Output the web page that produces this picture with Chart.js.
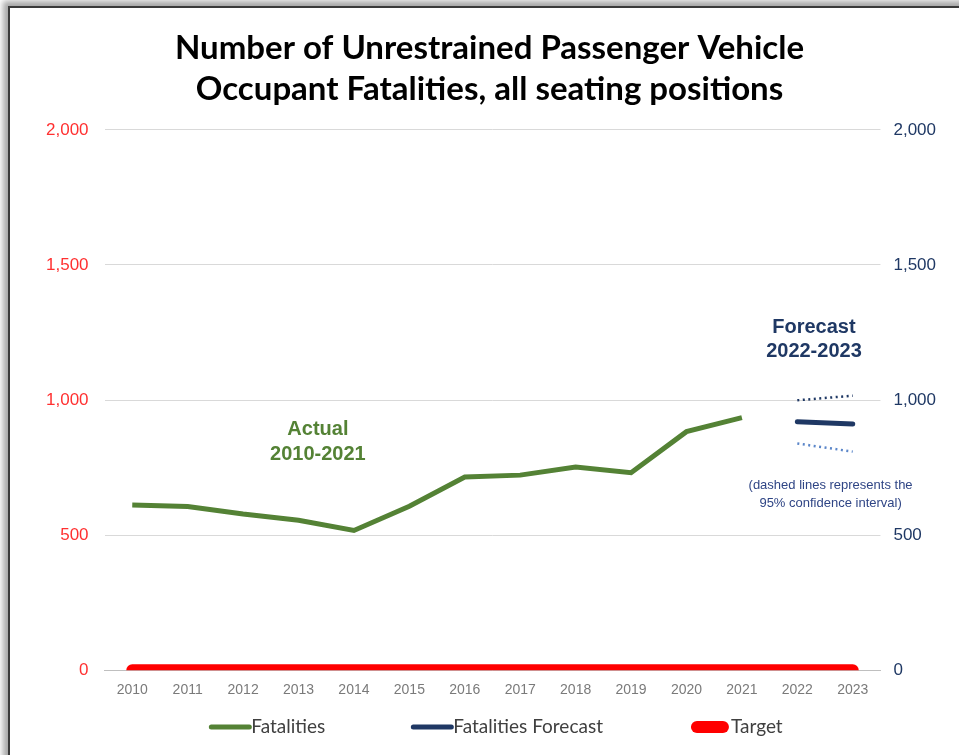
<!DOCTYPE html>
<html>
<head>
<meta charset="utf-8">
<script src="https://cdn.jsdelivr.net/npm/chart.js@4.4.1/dist/chart.umd.min.js"></script>
<style>
  html, body { margin: 0; padding: 0; background: #fff; overflow: hidden; }
  #wrap { position: absolute; left: 0; top: 0; width: 959px; height: 755px; }
  #frame {
    position: absolute; left: 8px; top: 6px; width: 1000px; height: 800px;
    border-left: 2px solid #3a3a3a; border-top: 2px solid #3a3a3a;
    box-shadow: -5px -5px 6px rgba(0,0,0,0.35);
  }
  canvas { position: absolute; left: 0; top: 0; }
</style>
</head>
<body>
<div id="wrap">
  <div id="frame"></div>
  <canvas id="grafico" width="959" height="755"></canvas>
</div>
<script>
const years = ['2010','2011','2012','2013','2014','2015','2016','2017','2018','2019','2020','2021','2022','2023']
const fatalities = [611, 606, 578, 555, 517, 607, 715, 722, 752, 731, 883, 935, null, null]
const forecast = [null, null, null, null, null, null, null, null, null, null, null, null, 920, 911]
const upperCI = [null, null, null, null, null, null, null, null, null, null, null, null, 999, 1016]
const lowerCI = [null, null, null, null, null, null, null, null, null, null, null, null, 839, 809]
const target = [0, 0, 0, 0, 0, 0, 0, 0, 0, 0, 0, 0, 0, 0]
const yTicks = [0, 500, 1000, 1500, 2000]

const green = '#548235'
const navy = '#1f3864'

// textos sobre el grafico, ubicados con las escalas (indice de categoria, valor)
const notas = [
    {text: 'Actual', i: 3.35, v: 892, color: green, font: 'bold 20px Arial'},
    {text: '2010-2021', i: 3.35, v: 800, color: green, font: 'bold 20px Arial'},
    {text: 'Forecast', i: 12.3, v: 1270, color: navy, font: 'bold 20px Arial'},
    {text: '2022-2023', i: 12.3, v: 1178, color: navy, font: 'bold 20px Arial'},
    {text: '(dashed lines represents the', i: 12.6, v: 685, color: '#2f4585', font: '13px Arial'},
    {text: '95% confidence interval)', i: 12.6, v: 619, color: '#2f4585', font: '13px Arial'}
]

const notasPlugin = {
    id: 'notas',
    afterDatasetsDraw(chart) {
        const ctx = chart.ctx
        const x = chart.scales.x
        const y = chart.scales.y
        ctx.save()
        ctx.textAlign = 'center'
        ctx.textBaseline = 'middle'
        notas.forEach(n => {
            ctx.font = n.font
            ctx.fillStyle = n.color
            ctx.fillText(n.text, x.getPixelForValue(n.i), y.getPixelForValue(n.v))
        })
        ctx.restore()
    }
}

// leyenda dibujada a mano (separacion grande entre items, poco alto)
const leyendaPlugin = {
    id: 'leyenda',
    afterDraw(chart) {
        const ctx = chart.ctx
        const items = chart.data.datasets.filter(d => d.enLeyenda)
        const sample = 38, gapTexto = 2, gapItem = 88
        ctx.save()
        ctx.font = '19px Lato'
        ctx.textBaseline = 'middle'
        let total = 0
        items.forEach((d, i) => {
            total += sample + gapTexto + ctx.measureText(d.label).width
            if (i < items.length - 1) total += gapItem
        })
        let x = 497 - total / 2
        const y = 727
        items.forEach(d => {
            ctx.strokeStyle = d.borderColor
            ctx.lineWidth = d.borderWidth
            ctx.lineCap = 'round'
            const r = d.borderWidth > 6 ? d.borderWidth / 2 : 0
            ctx.beginPath()
            ctx.moveTo(x + r, y)
            ctx.lineTo(x + sample - r, y)
            ctx.stroke()
            x += sample + gapTexto
            ctx.fillStyle = '#404040'
            ctx.fillText(d.label, x, y)
            x += ctx.measureText(d.label).width + gapItem
        })
        ctx.restore()
    }
}

const data = {
    labels: years,
    datasets: [
        {label: 'Fatalities', data: fatalities, borderColor: green, backgroundColor: green,
         borderWidth: 5, pointRadius: 0, order: 2, enLeyenda: true},
        {label: 'Fatalities Forecast', data: forecast, borderColor: navy, backgroundColor: navy,
         borderWidth: 5, borderCapStyle: 'round', pointRadius: 0, order: 2, enLeyenda: true},
        {label: 'Target', data: target, borderColor: '#ff0000', backgroundColor: '#ff0000',
         borderWidth: 12, borderCapStyle: 'round', pointRadius: 0, order: 1, enLeyenda: true},
        {label: 'upper', data: upperCI, borderColor: navy, borderWidth: 2.5,
         borderDash: [2, 3.5], pointRadius: 0, order: 3},
        {label: 'lower', data: lowerCI, borderColor: '#5b86c9', borderWidth: 2.5,
         borderDash: [2, 3.5], pointRadius: 0, order: 3}
    ]
}

const config = {
    type: 'line',
    data,
    plugins: [notasPlugin, leyendaPlugin],
    options: {
        responsive: false,
        animation: false,
        layout: {padding: {left: 30, right: 10, top: 16, bottom: 44}},
        plugins: {
            title: {
                display: true,
                text: ['Number of Unrestrained Passenger Vehicle', 'Occupant Fatalities, all seating positions'],
                color: '#000',
                font: {family: 'Lato', size: 33, weight: 'bold', lineHeight: 1.24},
                padding: {top: 12, bottom: 20}
            },
            legend: {display: false},
            tooltip: {enabled: false}
        },
        scales: {
            x: {
                offset: true,
                grid: {display: false, drawTicks: false},
                border: {color: '#bfbfbf'},
                ticks: {color: '#7a7a7a', font: {family: 'Arial', size: 14}, padding: 12, maxRotation: 0}
            },
            y: {
                position: 'left',
                min: 0, max: 2000,
                afterBuildTicks: axis => { axis.ticks = yTicks.map(v => ({value: v})) },
                grid: {color: '#d9d9d9', drawTicks: false},
                border: {display: false},
                ticks: {color: '#ff3030', font: {family: 'Arial', size: 17}, padding: 16}
            },
            y1: {
                position: 'right',
                min: 0, max: 2000,
                afterBuildTicks: axis => { axis.ticks = yTicks.map(v => ({value: v})) },
                grid: {display: false, drawTicks: false},
                border: {display: false},
                ticks: {color: navy, font: {family: 'Arial', size: 17}, padding: 13}
            }
        }
    }
}

let myChart = new Chart(document.getElementById('grafico'), config)
</script>
</body>
</html>
